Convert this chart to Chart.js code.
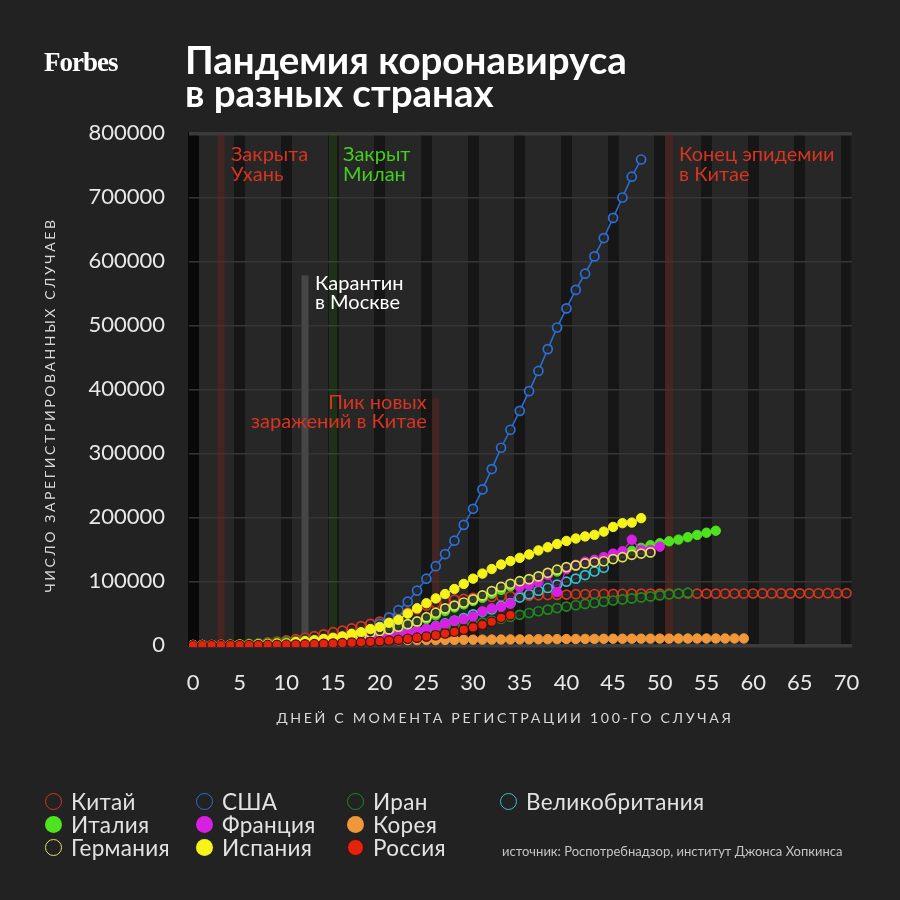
<!DOCTYPE html>
<html>
<head>
<meta charset="utf-8">
<script src="https://cdn.jsdelivr.net/npm/chart.js@4/dist/chart.umd.min.js"></script>
<style>
html,body{margin:0;padding:0;background:#222222;}
#wrap{position:relative;width:900px;height:900px;overflow:hidden;background:#222222;font-family:Lato,'Noto Sans',sans-serif;}
#c{position:absolute;left:0;top:0;}
.logo{position:absolute;left:44px;top:50px;font-family:'Liberation Serif','DejaVu Serif',serif;font-weight:bold;font-size:27px;line-height:25px;color:#fff;letter-spacing:-1px;}
.title{position:absolute;left:185px;top:43px;font-weight:700;font-size:38.5px;line-height:33px;color:#fff;white-space:nowrap;}
.ytitle{position:absolute;left:-160px;top:396px;width:420px;text-align:center;font-size:14px;line-height:18px;letter-spacing:2.6px;color:#d8d8d8;transform:rotate(-90deg);transform-origin:50% 50%;white-space:nowrap;}
.xtitle{position:absolute;left:205px;top:709px;width:600px;text-align:center;font-size:14.2px;line-height:18px;letter-spacing:2.65px;color:#d8d8d8;white-space:nowrap;}
#legend{position:absolute;left:45px;top:790px;display:grid;grid-template-columns:151px 151px 153px auto;grid-template-rows:23px 23px 23px;grid-auto-flow:column;}
.li{display:flex;align-items:center;height:23px;font-size:22.5px;letter-spacing:0.3px;color:#e2e2e2;white-space:nowrap;}
.mk{width:17px;height:17px;border-radius:50%;box-sizing:border-box;margin-right:9px;flex:none;}
.src{position:absolute;left:502px;top:843px;font-size:13px;line-height:16px;color:#c4c4c4;white-space:nowrap;}
</style>
</head>
<body>
<div id="wrap">
<canvas id="c" width="900" height="900"></canvas>
<div class="logo">Forbes</div>
<div class="title">Пандемия коронавируса<br>в разных странах</div>
<div class="ytitle">ЧИСЛО ЗАРЕГИСТРИРОВАННЫХ СЛУЧАЕВ</div>
<div class="xtitle">ДНЕЙ С МОМЕНТА РЕГИСТРАЦИИ 100-ГО СЛУЧАЯ</div>
<div id="legend"></div>
<div class="src">источник: Роспотребнадзор, институт Джонса Хопкинса</div>
</div>
<script>
// ---- data (index = days since the 100th case) ----
const tickDays = [0, 5, 10, 15, 20, 25, 30, 35, 40, 45, 50, 55, 60, 65, 70];
const tickCases = [0, 100000, 200000, 300000, 400000, 500000, 600000, 700000, 800000];

const chinaCases = [198, 291, 440, 571, 830, 1287, 1975, 2744, 4515, 5974, 7711, 9692, 11791, 14380, 17205, 20438, 23000, 26500, 30000, 33500, 37000, 41000, 46000, 51000, 56300, 61900, 65600, 69000, 71500, 72436, 74185, 74576, 75465, 76288, 76936, 77150, 77658, 78064, 78497, 78824, 79251, 79824, 80026, 80151, 80270, 80409, 80552, 80651, 80695, 80735, 80754, 80778, 80793, 80813, 80824, 80844, 80860, 80881, 80894, 80928, 80967, 81008, 81054, 81093, 81171, 81218, 81285, 81340, 81394, 81439, 81470];
const usaCases = [100, 124, 158, 221, 319, 435, 541, 704, 994, 1301, 1630, 2183, 2770, 3613, 4596, 6344, 9197, 13779, 19367, 24192, 33592, 43781, 54856, 68211, 85435, 104126, 123578, 142460, 163479, 188172, 213242, 243622, 275367, 308650, 336802, 366317, 397121, 428654, 462780, 496535, 526396, 555313, 580619, 607670, 636350, 667801, 699706, 732197, 759086];
const iranCases = [139, 245, 388, 593, 978, 1501, 2336, 2922, 3513, 4747, 5823, 6566, 7161, 8042, 9000, 10075, 11364, 12729, 13938, 14991, 16169, 17361, 18407, 19644, 20610, 21638, 23049, 24811, 27017, 29406, 32332, 35408, 38309, 41495, 44605, 47593, 50468, 53183, 55743, 58226, 60500, 62589, 64586, 66220, 68192, 70029, 71686, 73303, 74877, 76389, 77995, 79494, 80868, 82211];
const ukCases = [164, 207, 274, 322, 384, 459, 459, 802, 1144, 1145, 1551, 1960, 2642, 2716, 4014, 5067, 5745, 6726, 8164, 9640, 11812, 14745, 17312, 19780, 22453, 25481, 29865, 34173, 38689, 42477, 48436, 52279, 55949, 61474, 65872, 74605, 79874, 85206, 89570, 94845, 99483, 104145, 109769, 115314, 121172];
const italyCases = [155, 229, 322, 453, 655, 888, 1128, 1694, 2036, 2502, 3089, 3858, 4636, 5883, 7375, 9172, 10149, 12462, 15113, 17660, 21157, 24747, 27980, 31506, 35713, 41035, 47021, 53578, 59138, 63927, 69176, 74386, 80589, 86498, 92472, 97689, 101739, 105792, 110574, 115242, 119827, 124632, 128948, 132547, 135586, 139422, 143626, 147577, 152271, 156363, 159516, 162488, 165155, 168941, 172434, 175925, 178972];
const franceCases = [100, 130, 191, 204, 288, 380, 656, 959, 1136, 1219, 1794, 2293, 2293, 3681, 4496, 4532, 6683, 7715, 9124, 10970, 12758, 14463, 16243, 20123, 22622, 25600, 29551, 33402, 38105, 40708, 45170, 52827, 57749, 59929, 65202, 90848, 93773, 98963, 110065, 83080, 118781, 125931, 130727, 133670, 137875, 143303, 147091, 165027, 149130, 149149, 154097];
const koreaCases = [104, 204, 433, 602, 833, 977, 1261, 1766, 2337, 3150, 3736, 4335, 5186, 5621, 6088, 6593, 7041, 7314, 7478, 7513, 7755, 7869, 7979, 8086, 8162, 8236, 8320, 8413, 8565, 8652, 8799, 8897, 8961, 9037, 9137, 9241, 9332, 9478, 9583, 9661, 9786, 9887, 9976, 10062, 10156, 10237, 10284, 10331, 10384, 10423, 10450, 10480, 10512, 10537, 10564, 10591, 10613, 10635, 10653, 10661];
const germanyCases = [130, 159, 196, 262, 482, 670, 799, 1040, 1176, 1457, 1908, 2078, 3675, 4585, 5795, 7272, 9257, 12327, 15320, 19848, 22213, 24873, 29056, 32986, 37323, 43938, 50871, 57695, 62095, 66885, 71808, 77872, 84794, 91159, 96092, 100123, 103374, 107663, 113296, 118181, 122171, 124908, 127854, 130072, 131359, 134753, 137698, 141397, 143342, 145184];
const spainCases = [120, 165, 222, 259, 400, 500, 673, 1073, 1695, 2277, 2277, 5232, 6391, 7798, 9942, 11748, 13910, 17963, 20410, 25374, 28768, 35136, 39885, 49515, 57786, 65719, 73235, 80110, 87956, 95923, 104118, 112065, 119199, 126168, 131646, 136675, 141942, 148220, 153222, 158273, 163027, 166831, 170099, 172541, 177644, 184948, 190839, 191726, 198674];
const russiaCases = [114, 147, 199, 253, 306, 367, 438, 495, 658, 840, 1036, 1264, 1534, 1836, 2337, 2777, 3548, 4149, 4731, 5389, 6343, 7497, 8672, 10131, 11917, 13584, 15770, 18328, 21102, 24490, 27938, 32008, 36793, 42853, 47121];

// events: day of the event, height of its marker bar (null = full height), caption
const eventDays = [3, 15, 12, 26, 51];
const eventTopCases = [null, null, 578000, 386000, null];
const eventText = [['Закрыта', 'Ухань'], ['Закрыт', 'Милан'], ['Карантин', 'в Москве'], ['Пик новых', 'заражений в Китае'], ['Конец эпидемии', 'в Китае']];

const legendOrder = ['Китай', 'Италия', 'Германия', 'США', 'Франция', 'Испания', 'Иран', 'Корея', 'Россия', 'Великобритания'];

// ---- styles ----
const eventStyles = [
  {bar: 'rgba(110,36,26,0.42)', text: '#d8341f', align: 'left', w: 7, dy: 0},
  {bar: 'rgba(45,95,30,0.38)', text: '#44cf1f', align: 'left', w: 8, dy: 0},
  {bar: '#464646', text: '#ffffff', align: 'left', w: 7, dy: 8},
  {bar: 'rgba(110,36,26,0.42)', text: '#d8341f', align: 'right', w: 7, dy: 4},
  {bar: 'rgba(110,36,26,0.42)', text: '#d8341f', align: 'left', w: 8, dy: 0}
];

function pts(arr) { return arr.map((v, i) => ({x: i, y: v})); }
function series(label, arr, color, filled, extra) {
  return Object.assign({
    label: label,
    data: pts(arr),
    borderColor: color,
    backgroundColor: color,
    borderWidth: 1.2,
    tension: 0,
    pointRadius: filled ? 4.7 : 4.5,
    pointBorderWidth: filled ? 1 : 1.7,
    pointBackgroundColor: filled ? color : 'rgba(36,36,36,0.85)',
    pointBorderColor: color,
    filledMarker: filled
  }, extra || {});
}

// first dataset is drawn on top
const datasets = [
  series('Россия', russiaCases, '#e3220f', true, {pointBorderColor: '#4a0c05', pointBorderWidth: 1.2}),
  series('Испания', spainCases, '#f6f31a', true),
  series('Германия', germanyCases, '#e4e05c', false),
  series('Франция', franceCases, '#d81fe3', true),
  series('Великобритания', ukCases, '#38c0cc', false),
  series('Италия', italyCases, '#4de41f', true),
  series('Корея', koreaCases, '#f0973a', true),
  series('Иран', iranCases, '#1f8c1f', false),
  series('США', usaCases, '#2d6fd6', false, {borderWidth: 1.5}),
  series('Китай', chinaCases, '#d5371f', false)
];

const plotBg = {
  id: 'plotBg',
  beforeDraw(chart) {
    const a = chart.chartArea, ctx = chart.ctx;
    ctx.save();
    ctx.fillStyle = '#272727';
    ctx.fillRect(a.left, a.top, a.right - a.left, a.bottom - a.top);
    ctx.fillStyle = '#353535';
    ctx.fillRect(a.right - 1.5, a.top, 1.5, a.bottom - a.top);
    ctx.restore();
  }
};

const eventsPlugin = {
  id: 'events',
  beforeDatasetsDraw(chart) {
    const xs = chart.scales.x, ys = chart.scales.y, a = chart.chartArea, ctx = chart.ctx;
    ctx.save();
    eventDays.forEach((d, i) => {
      const st = eventStyles[i];
      const px = xs.getPixelForValue(d);
      const top = eventTopCases[i] == null ? a.top + 2 : ys.getPixelForValue(eventTopCases[i]);
      const bottom = ys.getPixelForValue(0) - 1;
      ctx.fillStyle = st.bar;
      ctx.fillRect(px - st.w / 2, top, st.w, bottom - top);
      ctx.font = '20px Lato, "Noto Sans", sans-serif';
      ctx.fillStyle = st.text;
      ctx.textAlign = st.align;
      ctx.textBaseline = 'middle';
      const tx = st.align === 'right' ? px - 9 : px + 10;
      const ty = eventTopCases[i] == null ? a.top + 23 : top + st.dy;
      eventText[i].forEach((line, j) => ctx.fillText(line, tx, ty + j * 19.5));
    });
    ctx.restore();
  }
};

const chart = new Chart(document.getElementById('c'), {
  type: 'line',
  data: {datasets: datasets},
  plugins: [plotBg, eventsPlugin],
  options: {
    responsive: false,
    animation: false,
    layout: {padding: {left: 0, right: 48, top: 132, bottom: 0}},
    plugins: {legend: {display: false}, tooltip: {enabled: false}},
    scales: {
      x: {
        type: 'linear',
        min: -0.43,
        max: 70.59,
        afterFit(s) { s.height = 253; },
        afterBuildTicks(s) { s.ticks = tickDays.map(v => ({value: v})); },
        grid: {
          drawTicks: false,
          lineWidth: 11,
          color: c => (c.tick && c.tick.value === 0) ? 'rgba(0,0,0,0.75)' : 'rgba(0,0,0,0.42)'
        },
        border: {display: false},
        ticks: {color: '#e8e8e8', font: {family: 'Lato', size: 22}, padding: 23, maxRotation: 0, autoSkip: false, callback: v => String(v)}
      },
      y: {
        min: -2656,
        max: 802031,
        afterFit(s) { s.width = 189; },
        afterBuildTicks(s) { s.ticks = tickCases.map(v => ({value: v})); },
        grid: {
          drawTicks: false,
          lineWidth: c => (c.tick && (c.tick.value === 0 || c.tick.value === 800000)) ? 3.5 : 1.5,
          color: c => (c.tick && (c.tick.value === 0 || c.tick.value === 800000)) ? '#3b3b3b' : '#363636'
        },
        border: {display: false},
        ticks: {color: '#e8e8e8', font: {family: 'Lato', size: 22}, padding: 24, autoSkip: false, callback: v => String(v)}
      }
    }
  }
});

// HTML legend built from the chart's datasets
const legendEl = document.getElementById('legend');
legendOrder.forEach(name => {
  const ds = chart.data.datasets.find(d => d.label === name);
  const item = document.createElement('div');
  item.className = 'li';
  const mk = document.createElement('span');
  mk.className = 'mk';
  if (ds.filledMarker) {
    mk.style.background = ds.pointBackgroundColor;
    if (ds.pointBorderColor !== ds.pointBackgroundColor) mk.style.border = '1.5px solid ' + ds.pointBorderColor;
  } else {
    mk.style.border = '1.6px solid ' + ds.pointBorderColor;
  }
  item.appendChild(mk);
  item.appendChild(document.createTextNode(ds.label));
  legendEl.appendChild(item);
});
</script>
</body>
</html>
